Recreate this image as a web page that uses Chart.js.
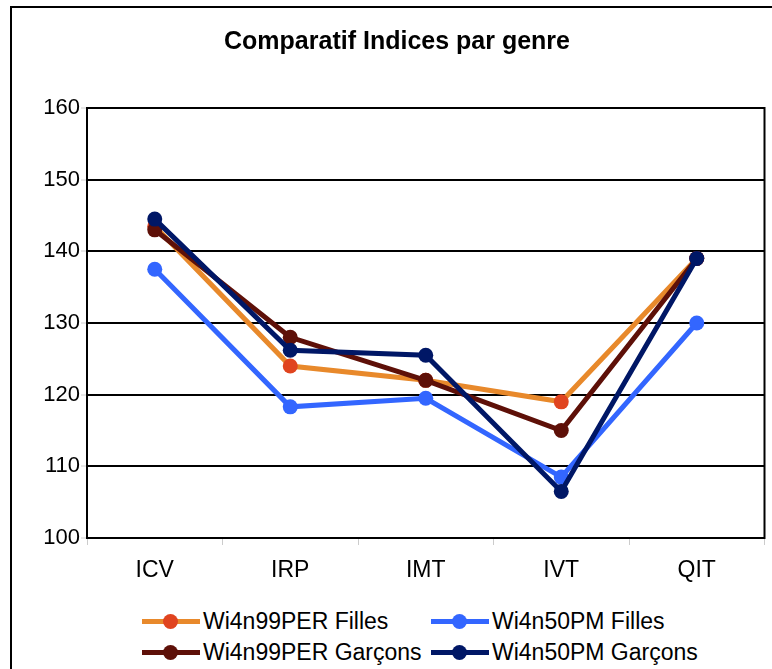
<!DOCTYPE html>
<html>
<head>
<meta charset="utf-8">
<script src="https://cdn.jsdelivr.net/npm/chart.js@4"></script>
<style>
  body { margin: 0; background: #fff; overflow: hidden; font-family: "Liberation Sans", Arial, sans-serif; }
  #cadre { position: absolute; left: 10px; top: 6px; width: 900px; height: 800px; border: 2px solid #000; }
  #zone { position: absolute; left: 0; top: 0; width: 772px; height: 600px; }
  #legende { position: absolute; left: 0; top: 606px; width: 772px; }
  .item { position: absolute; height: 30px; display: flex; align-items: center; font-size: 23px; color: #000; white-space: nowrap; }
  .trait { position: relative; width: 58px; height: 5px; margin-right: 3px; }
  .point { position: absolute; left: 21px; top: -5px; width: 15px; height: 15px; border-radius: 50%; }
</style>
</head>
<body>
<div id="cadre"></div>
<div id="zone"><canvas id="grafico" width="772" height="600"></canvas></div>
<div id="legende"></div>
<script>
const categories = ['ICV', 'IRP', 'IMT', 'IVT', 'QIT'];
const filles99 = [143.5, 124, 122, 119, 139];
const filles50 = [137.5, 118.3, 119.5, 108.5, 130];
const garcons99 = [143, 128, 122, 115, 139];
const garcons50 = [144.5, 126.2, 125.5, 106.5, 139];
const nomsSeries = ['Wi4n99PER Filles', 'Wi4n50PM Filles', 'Wi4n99PER Garçons', 'Wi4n50PM Garçons'];
const couleursLigne = ['#E8892B', '#3366FF', '#5E1008', '#001766'];
const couleursPoint = ['#E0441F', '#3366FF', '#5E1008', '#001766'];
const police = '"Liberation Sans", Arial, sans-serif';

// cadre noir autour de la zone de tracé
const cadrePlot = {
  id: 'cadrePlot',
  beforeDatasetsDraw(chart) {
    const a = chart.chartArea;
    const c = chart.ctx;
    c.save();
    c.strokeStyle = '#000';
    c.lineWidth = 2;
    c.strokeRect(a.left, a.top, a.right - a.left, a.bottom - a.top);
    c.restore();
  }
};

const series = [filles99, filles50, garcons99, garcons50];
const datasets = series.map((valeurs, i) => ({
  label: nomsSeries[i],
  data: valeurs,
  borderColor: couleursLigne[i],
  backgroundColor: couleursPoint[i],
  pointBackgroundColor: couleursPoint[i],
  pointBorderWidth: 0,
  pointRadius: 7.5,
  borderWidth: 5,
  tension: 0,
  order: 4 - i
}));

const ctx = document.getElementById('grafico').getContext('2d');
const grafico = new Chart(ctx, {
  type: 'line',
  data: { labels: categories, datasets: datasets },
  options: {
    responsive: false,
    animation: false,
    layout: { padding: { left: 28, right: 6, top: 0, bottom: 0 } },
    scales: {
      x: {
        offset: true,
        grid: { offset: true, drawOnChartArea: false, tickLength: 7, tickColor: '#ccc', tickWidth: 1 },
        border: { display: true, color: '#000', width: 2 },
        ticks: { color: '#000', padding: 12, font: { family: police, size: 23 } },
        afterFit: (s) => { s.height = 62; }
      },
      y: {
        min: 100,
        max: 160,
        ticks: { stepSize: 10, color: '#000', padding: 1, font: { family: police, size: 22 } },
        grid: { color: '#000', lineWidth: 2, tickLength: 6, tickColor: '#ccc', tickWidth: 1 },
        border: { display: true, color: '#000', width: 2 },
        afterFit: (s) => { s.width = 59; }
      }
    },
    plugins: {
      legend: { display: false },
      tooltip: { enabled: false },
      title: {
        display: true,
        text: 'Comparatif Indices par genre',
        color: '#000',
        font: { family: police, size: 25, weight: 'bold' },
        padding: { top: 27, bottom: 51 }
      }
    }
  },
  plugins: [cadrePlot]
});

// légende sur deux colonnes
const positions = [[142, 0], [431, 0], [142, 31], [431, 31]];
const legende = document.getElementById('legende');
grafico.data.datasets.forEach((ds, i) => {
  const item = document.createElement('div');
  item.className = 'item';
  item.style.left = positions[i][0] + 'px';
  item.style.top = positions[i][1] + 'px';
  item.innerHTML = '<span class="trait" style="background:' + couleursLigne[i] + '"><span class="point" style="background:' + couleursPoint[i] + '"></span></span>' + ds.label;
  legende.appendChild(item);
});
</script>
</body>
</html>
